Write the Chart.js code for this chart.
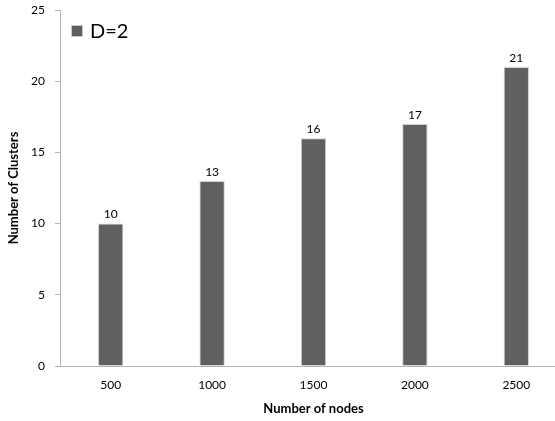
<!DOCTYPE html>
<html>
<head>
<meta charset="utf-8">
<script src="https://cdn.jsdelivr.net/npm/chart.js@4.4.0/dist/chart.umd.min.js"></script>
<style>
  html, body { margin: 0; padding: 0; background: #fff; overflow: hidden; }
  #wrap { width: 555px; height: 421px; overflow: hidden; }
</style>
</head>
<body>
<div id="wrap"><canvas id="chart" width="567" height="421"></canvas></div>
<script>
const nodes = ["500", "1000", "1500", "2000", "2500"];
const clusters = [10, 13, 16, 17, 21];
const seriesName = "D=2";
const yTicks = [0, 5, 10, 15, 20, 25];

const fontFamily = "Lato, 'Liberation Sans', sans-serif";

// value labels above each bar
const valueLabels = {
  id: "valueLabels",
  afterDatasetsDraw(chart) {
    const ctx = chart.ctx;
    const meta = chart.getDatasetMeta(0);
    ctx.save();
    ctx.font = "12px " + fontFamily;
    ctx.fillStyle = "#000";
    ctx.textAlign = "center";
    ctx.textBaseline = "bottom";
    meta.data.forEach((bar, i) => {
      ctx.fillText(chart.data.datasets[0].data[i], bar.x, bar.y - 3);
    });
    ctx.restore();
  }
};

// legend drawn inside the plot, top-left
const insideLegend = {
  id: "insideLegend",
  afterDraw(chart) {
    const ctx = chart.ctx;
    const ds = chart.data.datasets[0];
    const x = chart.chartArea.left + 11;
    const y = chart.chartArea.top + 21;
    ctx.save();
    ctx.fillStyle = ds.backgroundColor;
    ctx.strokeStyle = "#c8c8c8";
    ctx.lineWidth = 1;
    ctx.fillRect(x, y - 6, 12, 12);
    ctx.strokeRect(x + 0.5, y - 5.5, 11, 11);
    ctx.font = "20px " + fontFamily;
    ctx.fillStyle = "#000";
    ctx.textAlign = "left";
    ctx.textBaseline = "middle";
    ctx.fillText(ds.label, x + 19, y + 1);
    ctx.restore();
  }
};

new Chart(document.getElementById("chart"), {
  type: "bar",
  data: {
    labels: nodes,
    datasets: [{
      label: seriesName,
      data: clusters,
      backgroundColor: "#606060",
      borderColor: "#d0d0d0",
      borderWidth: 1,
      barPercentage: 0.25,
      categoryPercentage: 1.0
    }]
  },
  options: {
    responsive: false,
    animation: false,
    layout: { padding: { top: 10, right: 0, left: 0, bottom: 0 } },
    plugins: {
      legend: { display: false },
      tooltip: { enabled: false }
    },
    scales: {
      x: {
        grid: { display: false },
        border: { color: "#b4b4b4", width: 1 },
        ticks: { color: "#000", font: { family: fontFamily, size: 12 }, padding: 4 },
        title: {
          display: true,
          text: "Number of nodes",
          color: "#000",
          font: { family: fontFamily, size: 13, weight: "bold" },
          padding: { top: 15 }
        },
        afterFit(scale) {
          scale.height = 55;
          scale.paddingLeft = 0;
          scale.paddingRight = 0;
        }
      },
      y: {
        min: 0,
        max: 25,
        afterBuildTicks(scale) { scale.ticks = yTicks.map(v => ({ value: v })); },
        grid: { drawOnChartArea: false, drawTicks: true, tickLength: 5, color: "#b4b4b4" },
        border: { color: "#b4b4b4", width: 1 },
        ticks: { color: "#000", font: { family: fontFamily, size: 12 }, padding: 10 },
        title: {
          display: true,
          text: "Number of Clusters",
          color: "#000",
          font: { family: fontFamily, size: 13, weight: "bold" },
          padding: { top: 6, bottom: 0 }
        },
        afterFit(scale) {
          scale.width = 60;
          scale.paddingTop = 0;
          scale.paddingBottom = 0;
        }
      }
    }
  },
  plugins: [valueLabels, insideLegend]
});
</script>
</body>
</html>
